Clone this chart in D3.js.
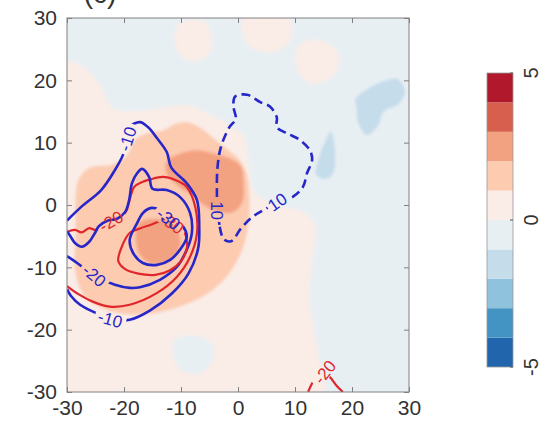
<!DOCTYPE html>
<html><head><meta charset="utf-8">
<script src="https://cdn.jsdelivr.net/npm/d3@7"></script>
<style>
body{margin:0;background:#fff}
svg{display:block}
text{font-family:"Liberation Sans",Arial,Helvetica,sans-serif}
</style>
</head><body>
<svg id="c" width="542" height="427"></svg>
<script>
// ---------- data ----------
const xTicks = [-30, -20, -10, 0, 10, 20, 30];
const yTicks = [-30, -20, -10, 0, 10, 20, 30];
const cbarTicks = [-5, 0, 5];
const levels = [-5, -4, -3, -2, -1, 0, 1, 2, 3, 4, 5];
const levelColors = ["#2166ac","#4393c3","#8fc2dd","#c5dcea","#e8eff3","#faece6","#fccbb0","#f3a281","#d6604d","#b2182b"];

// filled anomaly regions (x, y in data units) and their field value
const bgValue = -0.5;
const pinkMain = [[-30,23],[-27,22],[-24,19],[-22,15.5],[-19,15],[-14,15.5],[-9,16],[-5,14.5],[-2,13],[1,11],[2,6],[3,2],[7,0],[11,-1],[13.5,-3],[13,-9],[12.5,-15],[13.5,-21],[14.5,-26],[15,-30],[-30,-30]];
const pinkTop1 = [[-10.5,29],[-6,29.5],[-4.5,26],[-6,23.5],[-9.5,23.5],[-11,26]];
const pinkTop2 = [[10.5,25.5],[14,26.5],[17.5,24.5],[17,21],[13,19.5],[10.5,21.5]];
const pinkTop3 = [[1,30],[9,30],[9,26],[5,24.5],[1.5,26]];
const bluePocket = [[-11,-21.5],[-7,-21],[-4.5,-22.5],[-4.5,-25],[-6.5,-27],[-10,-26.5],[-11.5,-24]];
const peach = [[-28,4],[-26,6],[-22,6.5],[-19.5,8],[-18,10.5],[-16,11.5],[-13,12],[-11,13],[-8.5,13.2],[-6,12],[-4,10.5],[-2,9],[0,7.5],[1.5,5],[2,1],[1.8,-3],[1,-6.5],[-0.5,-9.5],[-2.5,-12],[-5,-14],[-8,-15.5],[-12,-16.8],[-16,-17.5],[-20,-17.5],[-24,-16.5],[-27,-14.5],[-28.5,-11],[-28.5,-4],[-28.5,1]];
const darkA = [[-12.5,7],[-10,8.3],[-7,8.8],[-4,8.2],[-1.5,7.5],[0.5,6.3],[1,3.5],[0.8,0.5],[-1,-1.2],[-4,-1],[-6,0],[-8,1.5],[-10.5,3],[-12.5,5]];
const darkB = [[-17.5,-3],[-14.5,-2.2],[-11.5,-3],[-10.2,-5],[-10.5,-7.5],[-12.5,-9.2],[-15.5,-9.3],[-17.5,-7.5]];
const blueA = [[20.6,17],[22.5,18.5],[25.4,19.8],[28,20.2],[29.3,18.2],[28.2,16.2],[25.6,15],[24.6,12.8],[22.6,11.2],[21,13.4],[20.8,15.6]];
const blueB = [[13.7,4.8],[14.3,8],[15.3,10.2],[16.3,11.8],[17,9],[16.8,5.3],[15.5,4.2]];

// contour lines (x, y in data units)
const blueM10 = [[-30,-2.5],[-27.5,-0.3],[-24,2.4],[-21.6,5.6],[-20.2,8],[-19.5,10.5],[-19,12.5],[-17.2,13.3],[-15.8,12.5],[-14.2,10.7],[-12.5,8.5],[-11.7,6],[-9,3.5],[-7.2,0.8],[-6.8,-3.5],[-7,-7],[-8.7,-11],[-11.6,-14.2],[-15.4,-16.9],[-19,-18.4],[-22.5,-18.2],[-25,-17.3],[-27.7,-16],[-29.3,-14.6],[-30,-13.5]];
const redM20 = [[-30,-4.3],[-28.6,-4],[-27.4,-4.4],[-26.1,-3.7],[-25.1,-4],[-23.9,-3.7],[-22.6,-2.9],[-21.6,-2.7],[-20.4,-1.9],[-19.5,-0.8],[-19.1,0.5],[-18.2,2.9],[-16.8,3.7],[-15.4,4.1],[-13.2,4.5],[-11,4],[-9,2.9],[-7.5,-0.3],[-7.2,-4.5],[-8.4,-8.3],[-10.7,-11.5],[-14.2,-14.1],[-19,-16],[-22.5,-16.3],[-25.5,-15.5],[-28,-14.3],[-30,-13]];
const blueM20 = [[-30,-4.2],[-29.4,-5],[-28.6,-6.1],[-27.4,-6.7],[-26.1,-5.9],[-25.1,-4.5],[-24.4,-3.4],[-22.8,-2.5],[-21.2,-2.2],[-19.8,-1.1],[-19.1,0.8],[-18.6,3.5],[-17.7,5.1],[-16.8,5.8],[-15.6,4.5],[-15,2.6],[-12.5,2.4],[-10.2,1.3],[-8.4,-1.3],[-8.1,-4.5],[-9,-7.2],[-10.7,-9.9],[-13.7,-12],[-17.2,-13.2],[-19,-13.3],[-21.6,-12.8],[-25,-11.4],[-27.5,-9.8],[-29,-8.8],[-30,-8.2]];
const blueM30 = [[-16.7,-1.3],[-15.4,-0.5],[-13.7,-0.8],[-13.3,-1.6],[-11.4,-2.1],[-9.6,-3.5],[-9,-5.1],[-10.2,-7.2],[-11.9,-8.8],[-14.2,-9.6],[-16.7,-9.3],[-18.4,-7.7],[-19,-5.6],[-17.7,-2.9]];
const redM30 = [[-21,-9],[-20.3,-6.5],[-19,-4.5],[-17,-3.7],[-15.4,-3.2],[-12.5,-2.3],[-10.5,-3],[-9.2,-4.8],[-9,-7],[-10,-9],[-12,-10.5],[-14.5,-11.2],[-17.5,-11],[-19.8,-10.3]];
const blueP10 = [[-3.2,-3.5],[-2.5,-5.5],[-1.2,-5.8],[0.5,-3.8],[2.4,-2],[4.5,-0.8],[7.2,0.5],[9.6,1.3],[11.4,2.9],[12.1,5.1],[13,7.2],[12.6,8.8],[10.9,10.4],[8.6,11.5],[6.8,12.5],[6.8,14.1],[5.6,15.8],[3.9,16.5],[1.6,17.7],[-0.5,17.4],[-0.8,15.8],[-0.4,13.8],[-1.5,12.5],[-3,9.3],[-3.6,6],[-3.7,2],[-3.6,-0.8],[-3.2,-3.5]];
const redM20b = [[12.3,-30],[13.2,-28.3],[14.6,-26.8],[16,-27.5],[17.3,-29],[18.4,-30]];

// contour labels
const lblBlueM10 = [{x:-19.4,y:10.6,r:-72,t:"-10"},{x:-22.4,y:-18.3,r:16,t:"-10"}];
const lblRedM20 = [{x:-22.3,y:-2.6,r:-30,t:"-20"}];
const lblBlueM20 = [{x:-25.2,y:-11.3,r:40,t:"-20"}];
const lblBlueM30 = [{x:-12.2,y:-2.2,r:38,t:"-30"}];
const lblRedM30 = [{x:-11.6,y:-2.9,r:35,t:"-30"}];
const lblBlueP10 = [{x:-3.6,y:-0.9,r:90,t:"10"},{x:6.9,y:0.5,r:-35,t:"10"}];
const lblRedM20b = [{x:15.2,y:-26.8,r:-52,t:"-20"}];

// ---------- drawing ----------
const svg = d3.select("#c");
const x = d3.scaleLinear([-30, 30], [67, 409]);
const y = d3.scaleLinear([-30, 30], [392, 18]);
const color = d3.scaleThreshold().domain(levels.slice(1, -1)).range(levelColors);

const defs = svg.append("defs");
defs.append("clipPath").attr("id", "plotClip").append("rect")
  .attr("x", x(-30)).attr("y", y(30)).attr("width", x(30) - x(-30)).attr("height", y(-30) - y(30));
defs.append("filter").attr("id", "soft").attr("x", "-5%").attr("y", "-5%").attr("width", "110%").attr("height", "110%")
  .append("feGaussianBlur").attr("stdDeviation", 1.4);

const regions = [
  {v: 0.5, pts: pinkMain}, {v: 0.5, pts: pinkTop1}, {v: 0.5, pts: pinkTop2}, {v: 0.5, pts: pinkTop3},
  {v: -0.5, pts: bluePocket},
  {v: 1.5, pts: peach}, {v: 2.5, pts: darkA}, {v: 2.5, pts: darkB},
  {v: -1.5, pts: blueA}, {v: -1.5, pts: blueB}
];

const fillOuter = svg.append("g").attr("clip-path", "url(#plotClip)");
const fillG = fillOuter.append("g").attr("filter", "url(#soft)");
fillG.append("rect").attr("x", x(-34)).attr("y", y(34)).attr("width", x(34) - x(-34)).attr("height", y(-34) - y(34))
  .attr("fill", color(bgValue));
const poly = d3.line().x(d => x(d[0])).y(d => y(d[1])).curve(d3.curveCatmullRomClosed.alpha(0.5));
fillG.selectAll("path.reg").data(regions).join("path").attr("class", "reg")
  .attr("d", d => poly(d.pts)).attr("fill", d => color(d.v));

// contour lines
const blueC = "#2626c9", redC = "#e0262b";
const lines = [
  {id: "l1", pts: blueM10, c: blueC, w: 2.6, closed: false, dash: null, labels: lblBlueM10},
  {id: "l2", pts: redM20, c: redC, w: 2.2, closed: false, dash: null, labels: lblRedM20},
  {id: "l3", pts: blueM20, c: blueC, w: 2.6, closed: false, dash: null, labels: lblBlueM20},
  {id: "l4", pts: redM30, c: redC, w: 2.2, closed: true, dash: null, labels: lblRedM30},
  {id: "l5", pts: blueM30, c: blueC, w: 2.6, closed: true, dash: null, labels: lblBlueM30},
  {id: "l6", pts: blueP10, c: blueC, w: 2.6, closed: false, dash: "9,5", labels: lblBlueP10},
  {id: "l7", pts: redM20b, c: redC, w: 2.2, closed: false, dash: null, labels: lblRedM20b}
];
const lblFs = 17;
lines.forEach(L => {
  const m = defs.append("mask").attr("id", "m" + L.id).attr("maskUnits", "userSpaceOnUse")
    .attr("x", 0).attr("y", 0).attr("width", 542).attr("height", 427);
  m.append("rect").attr("width", 542).attr("height", 427).attr("fill", "#fff");
  L.labels.forEach(l => {
    const w = l.t.length * lblFs * 0.52 + 5, h = lblFs * 0.82;
    m.append("rect").attr("x", -w / 2).attr("y", -h / 2).attr("width", w).attr("height", h)
      .attr("transform", `translate(${x(l.x)},${y(l.y)}) rotate(${l.r})`).attr("fill", "#000");
  });
});
const linesOuter = svg.append("g").attr("clip-path", "url(#plotClip)");
lines.forEach(L => {
  const gen = d3.line().x(d => x(d[0])).y(d => y(d[1]))
    .curve(L.closed ? d3.curveCatmullRomClosed.alpha(0.5) : d3.curveCatmullRom.alpha(0.5));
  linesOuter.append("g").attr("mask", `url(#m${L.id})`)
    .append("path").attr("d", gen(L.pts)).attr("fill", "none")
    .attr("stroke", L.c).attr("stroke-width", L.w).attr("stroke-linejoin", "round")
    .attr("stroke-dasharray", L.dash);
});
lines.forEach(L => {
  linesOuter.selectAll(null).data(L.labels).join("text")
    .attr("transform", d => `translate(${x(d.x)},${y(d.y)}) rotate(${d.r})`)
    .attr("text-anchor", "middle").attr("dy", "0.36em")
    .attr("font-size", lblFs).attr("fill", L.c).text(d => d.t);
});

// axes (inward ticks, box)
const axCol = "#808080", txtCol = "#333";
function styleAxis(g, showText) {
  g.select(".domain").remove();
  g.selectAll(".tick line").attr("stroke", axCol);
  if (showText) g.selectAll(".tick text").attr("fill", txtCol).attr("font-size", 21)
    .attr("font-family", '"Liberation Sans",Arial,sans-serif');
  else g.selectAll(".tick text").remove();
}
svg.append("g").attr("transform", `translate(0,${y(-30)})`)
  .call(d3.axisBottom(x).tickValues(xTicks).tickSize(-5).tickPadding(8).tickFormat(d3.format("d")))
  .call(g => styleAxis(g, true));
svg.append("g").attr("transform", `translate(${x(-30)},0)`)
  .call(d3.axisLeft(y).tickValues(yTicks).tickSize(-5).tickPadding(10).tickFormat(d3.format("d")))
  .call(g => styleAxis(g, true));
svg.append("g").attr("transform", `translate(0,${y(30)})`)
  .call(d3.axisTop(x).tickValues(xTicks).tickSize(-5)).call(g => styleAxis(g, false));
svg.append("g").attr("transform", `translate(${x(30)},0)`)
  .call(d3.axisRight(y).tickValues(yTicks).tickSize(-5)).call(g => styleAxis(g, false));
svg.append("rect").attr("x", x(-30)).attr("y", y(30)).attr("width", x(30) - x(-30)).attr("height", y(-30) - y(30))
  .attr("fill", "none").attr("stroke", axCol).attr("stroke-width", 1);
svg.selectAll(".tick text").text(d => String(d));

// partially visible panel title (cut off at the top edge, as in the reference)
svg.append("text").attr("x", 100).attr("y", 3).attr("text-anchor", "middle")
  .attr("font-size", 28).attr("fill", "#333").text("(c)");

// colorbar
const cy = d3.scaleLinear([-5, 5], [367, 73]);
const cbX = 487, cbW = 26;
const cb = svg.append("g");
cb.selectAll("rect.lv").data(levelColors).join("rect").attr("class", "lv")
  .attr("x", cbX).attr("width", cbW)
  .attr("y", (d, i) => cy(levels[i + 1])).attr("height", (d, i) => cy(levels[i]) - cy(levels[i + 1]))
  .attr("fill", d => d);
cb.append("rect").attr("x", cbX).attr("y", cy(5)).attr("width", cbW).attr("height", cy(-5) - cy(5))
  .attr("fill", "none").attr("stroke", "#9a9a9a").attr("stroke-width", 0.8);
cb.selectAll("line.tk").data(cbarTicks).join("line").attr("class", "tk")
  .attr("x1", cbX + cbW - 3).attr("x2", cbX + cbW).attr("y1", d => cy(d)).attr("y2", d => cy(d))
  .attr("stroke", "#555");
cb.selectAll("text").data(cbarTicks).join("text")
  .attr("transform", d => `translate(538,${cy(d)}) rotate(-90)`)
  .attr("text-anchor", "middle").attr("font-size", 20).attr("fill", txtCol).text(d => String(d));
</script>
</body></html>
